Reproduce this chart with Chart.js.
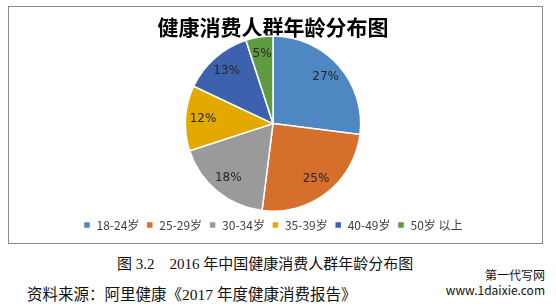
<!DOCTYPE html>
<html>
<head>
<meta charset="utf-8">
<script src="https://cdn.jsdelivr.net/npm/chart.js@4/dist/chart.umd.min.js"></script>
<style>
  html, body { margin: 0; padding: 0; background: #fff; }
  body { width: 556px; height: 304px; position: relative; overflow: hidden; }
  #frame { position: absolute; left: 8px; top: 6px; width: 533px; height: 236px; border: 1px solid #8a8a8a; }
  #frame canvas { display: block; }
  .cap { position: absolute; font-family: "Liberation Serif", "Noto Sans CJK SC", serif; color: #111; white-space: nowrap; }
  #caption { left: 117px; top: 252px; font-size: 15px; }
  #source { left: 27px; top: 282px; font-size: 15.5px; }
  .wm { position: absolute; right: 11px; font-family: "Noto Sans CJK SC", "DejaVu Sans", sans-serif; color: #111; font-size: 12px; line-height: 14px; white-space: nowrap; }
</style>
</head>
<body>
<div id="frame"><canvas id="ageChart" width="533" height="236"></canvas></div>
<div class="cap" id="caption">图 3.2&nbsp;&nbsp;&nbsp;&nbsp;2016 年中国健康消费人群年龄分布图</div>
<div class="cap" id="source">资料来源：阿里健康《2017 年度健康消费报告》</div>
<div class="wm" style="top:268px;">第一代写网</div>
<div class="wm" style="top:283px;">www.1daixie.com</div>
<script>
  // 年龄段与占比（%）
  var ageGroups = ['18-24岁', '25-29岁', '30-34岁', '35-39岁', '40-49岁', '50岁 以上'];
  var shares = [27, 25, 18, 12, 13, 5];
  var sliceColors = ['#4f87c2', '#d66f2b', '#9a9a9a', '#e3a900', '#3d61ad', '#5e9a40'];

  // 百分比标签画在扇区内部
  var pctLabels = {
    id: 'pctLabels',
    afterDatasetsDraw: function (chart) {
      var ctx = chart.ctx;
      var meta = chart.getDatasetMeta(0);
      ctx.save();
      ctx.font = '12px "DejaVu Sans", sans-serif';
      ctx.fillStyle = '#262626';
      ctx.textAlign = 'center';
      ctx.textBaseline = 'middle';
      meta.data.forEach(function (arc, i) {
        var p = arc.getProps(['x', 'y', 'startAngle', 'endAngle', 'outerRadius'], true);
        var mid = (p.startAngle + p.endAngle) / 2;
        var r = p.outerRadius * 0.8;
        ctx.fillText(shares[i] + '%', p.x + Math.cos(mid) * r, p.y + Math.sin(mid) * r);
      });
      ctx.restore();
    }
  };

  new Chart(document.getElementById('ageChart'), {
    type: 'pie',
    data: {
      labels: ageGroups,
      datasets: [{
        data: shares,
        backgroundColor: sliceColors,
        borderColor: '#ffffff',
        borderWidth: 1.5
      }]
    },
    options: {
      responsive: false,
      animation: false,
      layout: { padding: { left: 0, right: 5, top: 0, bottom: 2 } },
      plugins: {
        title: {
          display: true,
          text: '健康消费人群年龄分布图',
          color: '#000',
          font: { family: '"Noto Sans CJK SC", sans-serif', size: 21, weight: 'bold' },
          padding: { top: 7, bottom: -4 }
        },
        legend: {
          position: 'bottom',
          labels: {
            boxWidth: 7,
            boxHeight: 7,
            padding: 7,
            color: '#404040',
            font: { family: '"Noto Sans CJK SC", sans-serif', size: 12 }
          }
        },
        tooltip: { enabled: false }
      }
    },
    plugins: [pctLabels]
  });
</script>
</body>
</html>
